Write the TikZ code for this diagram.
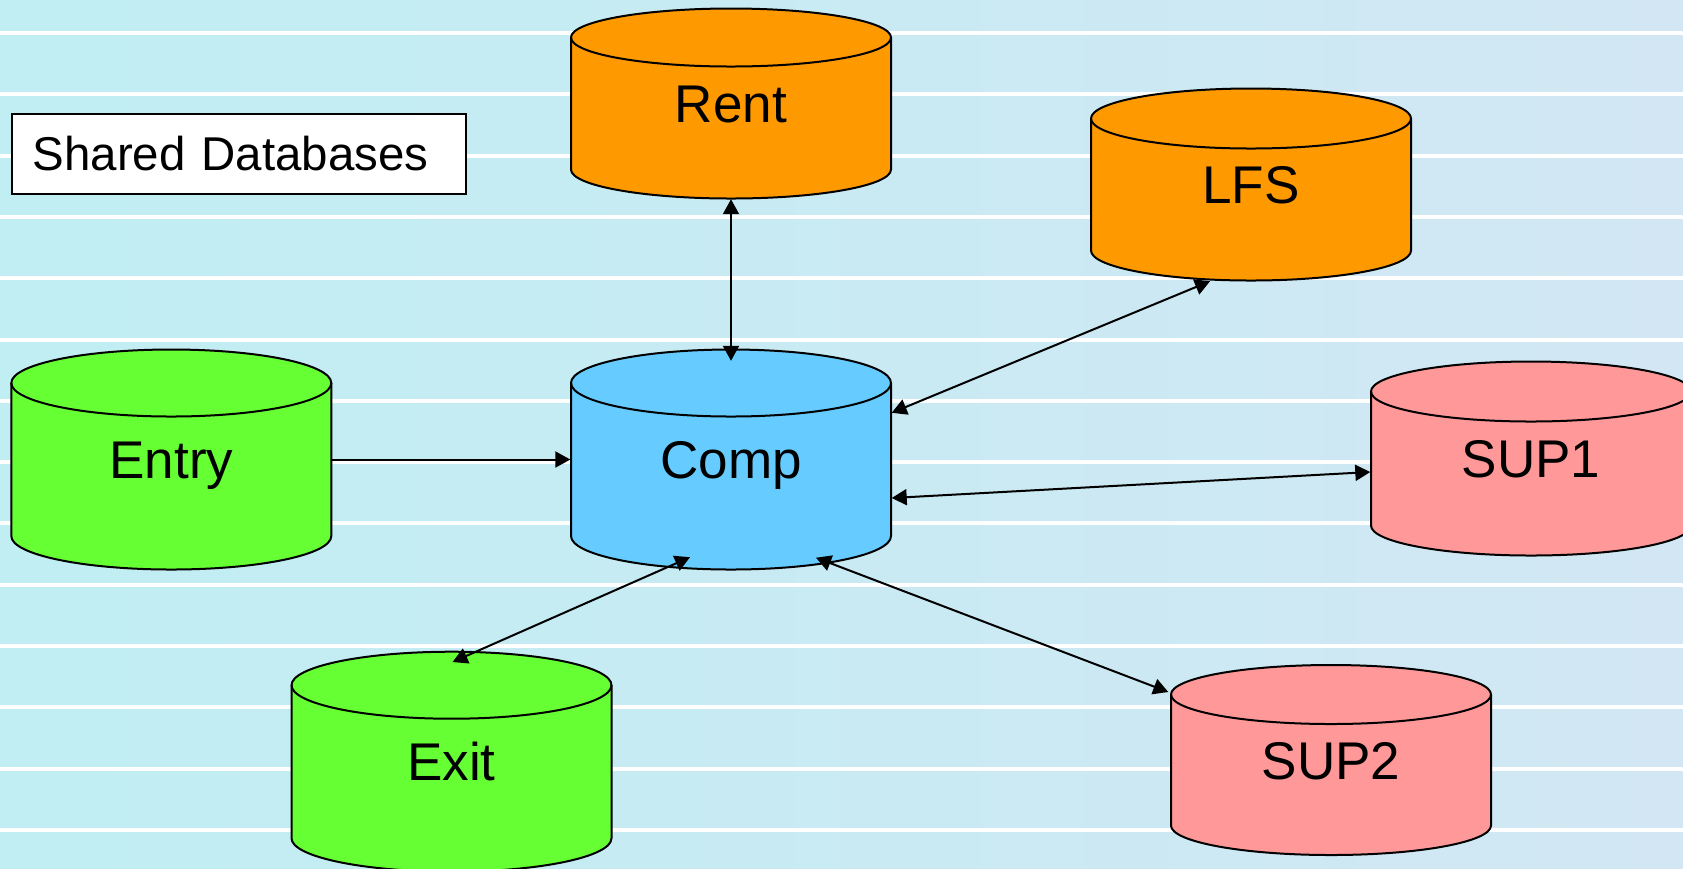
\documentclass[tikz,border=0pt]{standalone}
\usepackage{fontspec}
\setmainfont{Liberation Sans}
\usetikzlibrary{arrows.meta}
\usetikzlibrary{calc}

\definecolor{rentorange}{RGB}{255,153,0}
\definecolor{entrygreen}{RGB}{102,255,51}
\definecolor{compblue}{RGB}{102,204,255}
\definecolor{suppink}{RGB}{255,153,153}
\definecolor{bgleft}{RGB}{192,238,243}
\definecolor{bgright}{RGB}{210,231,243}

\begin{document}
\begin{tikzpicture}[
  dbline/.style={draw=black, line width=0.02cm},
  dblabel/.style={inner sep=0pt, minimum width=3.2cm, text height=10.8pt, text depth=0pt,
    font=\fontsize{15.1pt}{18pt}\selectfont},
  link/.style={line width=0.02cm, >={Triangle[length=0.15cm,width=0.16cm]}}]
\useasboundingbox (0,0) rectangle (16.83,-8.68);
\clip (0,0) rectangle (16.83,-8.68);
\shade[left color=bgleft, right color=bgright] (0,0) rectangle (16.83,-8.68);
\foreach \k in {0,...,13}
\draw[white, line width=0.04cm] (0,-0.33-0.613*\k) -- (16.83,-0.33-0.613*\k);

% databases: name/x/y/body/rim/colour/label
\foreach \name/\x/\y/\h/\r/\col/\txt in {
  rent/7.31/-1.035/1.32/0.29/rentorange/Rent,
  lfs/12.51/-1.845/1.32/0.30/rentorange/LFS,
  entry/1.713/-4.595/1.53/0.335/entrygreen/Entry,
  comp/7.31/-4.595/1.53/0.335/compblue/Comp,
  sup1/15.31/-4.585/1.34/0.30/suppink/SUP1,
  exit/4.515/-7.617/1.53/0.335/entrygreen/Exit,
  sup2/13.31/-7.60/1.31/0.295/suppink/SUP2}
{
\filldraw[dbline, fill=\col] (\x-1.6,\y+\h/2) -- (\x-1.6,\y-\h/2)
  arc[start angle=180, end angle=360, x radius=1.6, y radius=\r]
  -- (\x+1.6,\y+\h/2)
  arc[start angle=0, end angle=180, x radius=1.6, y radius=\r] -- cycle;
\draw[dbline] (\x-1.6,\y+\h/2) arc[start angle=180, end angle=360, x radius=1.6, y radius=\r];
\node[dblabel, minimum height={(\h+2*\r)*1cm}] (\name) at (\x,\y) {\txt};
}

\node[draw, fill=white, line width=0.015cm, anchor=north west, minimum height=0.8cm,
  text width=4.12cm, inner xsep=0.21cm, align=left, text height=9.7pt, text depth=0pt,
  font=\fontsize{13.5pt}{17pt}\selectfont] (title) at (0.11,-1.13) {Shared Databases};

\draw[link,<->] (rent.south) -- ($(comp.north)+(0,-0.12)$);
\draw[link,->] (entry.east) -- (comp.west);
\draw[link,<->] ($(comp.north east)+(0,-0.64)$) -- ($(lfs.south)+(-0.41,0)$);
\draw[link,<->] ($(comp.east)+(0,-0.385)$) -- ($(sup1.west)+(0,-0.135)$);
\draw[link,<->] ($(comp.south)+(-0.41,0.13)$) -- ($(exit.north)+(0.01,-0.11)$);
\draw[link,<->] ($(comp.south)+(0.85,0.125)$) -- ($(sup2.west)+(-0.02,0.68)$);
\end{tikzpicture}
\end{document}
